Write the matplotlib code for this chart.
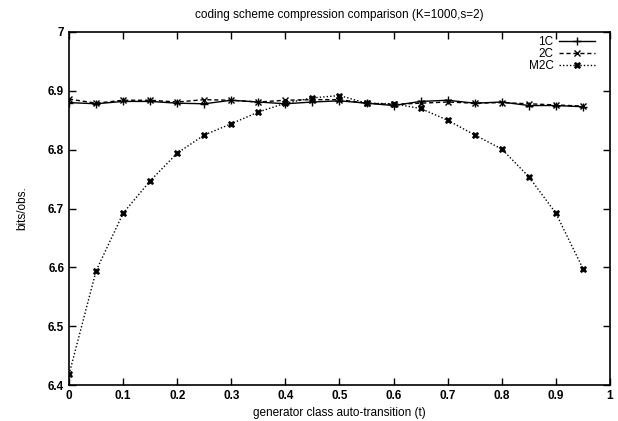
import numpy as np
import matplotlib
matplotlib.use("Agg")
import matplotlib.pyplot as plt

t = [0.0, 0.05, 0.1, 0.15, 0.2, 0.25, 0.3, 0.35, 0.4, 0.45,
     0.5, 0.55, 0.6, 0.65, 0.7, 0.75, 0.8, 0.85, 0.9, 0.95]
c1 = [6.880, 6.878, 6.882, 6.882, 6.879, 6.878, 6.884, 6.881, 6.878, 6.881,
      6.883, 6.879, 6.875, 6.882, 6.884, 6.879, 6.881, 6.875, 6.875, 6.873]
c2 = [6.886, 6.879, 6.884, 6.884, 6.881, 6.885, 6.884, 6.881, 6.884, 6.885,
      6.885, 6.879, 6.877, 6.879, 6.881, 6.879, 6.880, 6.878, 6.876, 6.874]
m2c = [6.418, 6.594, 6.692, 6.747, 6.794, 6.825, 6.844, 6.864, 6.879, 6.888,
       6.892, 6.879, 6.878, 6.870, 6.850, 6.825, 6.801, 6.754, 6.692, 6.598]

plt.rcParams.update({"font.family": ["Liberation Sans", "DejaVu Sans"], "font.size": 8.5})

fig = plt.figure(figsize=(6.18, 4.21), dpi=100)
ax = fig.add_axes([0.1117, 0.0855, 0.8753, 0.8385])

ax.plot(t, c1, color="black", lw=1.0, ls="-", marker="+", ms=6, mew=1.0, label="1C")
ax.plot(t, c2, color="black", lw=1.0, ls=(0, (3, 2)), marker="x", ms=5, mew=1.0, label="2C")
ax.plot(t, m2c, color="black", lw=1.0, ls=(0, (1, 1.5)), marker="X", ms=5, mew=0.5, label="M2C")

ax.set_xlim(0, 1)
ax.set_ylim(6.4, 7.0)
ax.set_xticks(np.arange(0, 1.01, 0.1))
ax.set_xticklabels(["0", "0.1", "0.2", "0.3", "0.4", "0.5", "0.6", "0.7", "0.8", "0.9", "1"])
ax.set_yticks(np.arange(6.4, 7.01, 0.1))
ax.set_yticklabels(["6.4", "6.5", "6.6", "6.7", "6.8", "6.9", "7"])
ax.tick_params(direction="in", top=True, right=True, length=5, width=1, labelsize=8.5)
for lab in ax.get_xticklabels() + ax.get_yticklabels():
    lab.set_fontweight("bold")
for s in ax.spines.values():
    s.set_linewidth(1.2)

ax.set_xlabel("generator class auto-transition (t)", fontsize=8.5, labelpad=4)
ax.set_ylabel("bits/obs.", fontsize=8.5, labelpad=14)
ax.set_title("coding scheme compression comparison (K=1000,s=2)", fontsize=8.5, pad=10)

leg = ax.legend(loc="upper right", bbox_to_anchor=(0.972, 0.988), frameon=False,
                markerfirst=False, fontsize=8.5, handlelength=3.0, labelspacing=0.0,
                borderaxespad=0, borderpad=0, handletextpad=0.5)
for txt in leg.get_texts():
    txt.set_ha("right")

fig.savefig("out.png", dpi=100)
